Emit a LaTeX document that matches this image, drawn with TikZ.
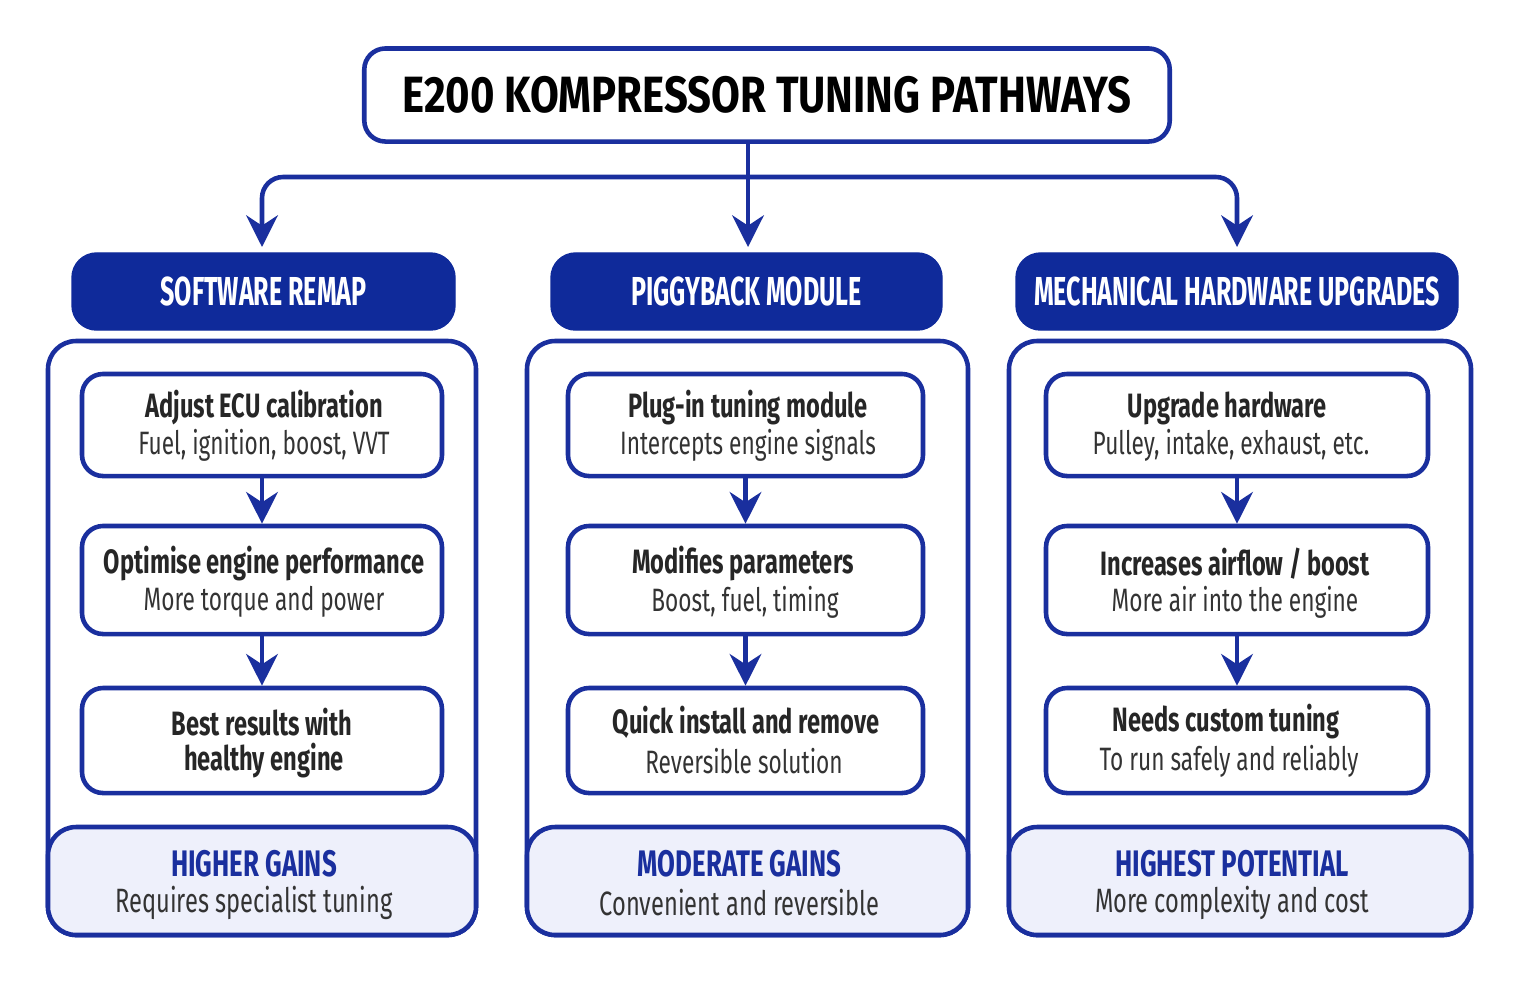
\documentclass[tikz,border=0pt]{standalone}
\usepackage{fontspec}
\setmainfont{Fira Sans}[FakeStretch=0.7]
\newfontfamily\ttlfont{Fira Sans}[FakeStretch=0.82]
\newfontfamily\hdrfont{Fira Sans}[FakeStretch=0.62]
\usetikzlibrary{arrows.meta}
\definecolor{nv}{HTML}{1A2F9E}
\definecolor{hd}{HTML}{0F2A9A}
\definecolor{lt}{HTML}{EEF0FB}
\begin{document}
\begin{tikzpicture}[x=0.01cm,y=-0.01cm,
  box/.style={draw=nv,line width=1.3pt,rounded corners=6pt,fill=white},
  hdr/.style={draw=hd,fill=hd,rounded corners=7pt,text=white,font=\hdrfont\fontsize{11.5}{14}\selectfont\bfseries},
  arr/.style={draw=nv,line width=1.3pt,-{Stealth[length=9pt,width=9pt]}},
  t1/.style={font=\fontsize{9.6}{12}\selectfont\bfseries,text=black!85},
  t2/.style={font=\fontsize{9.2}{12}\selectfont,text=black!80},
  ft/.style={font=\fontsize{10.5}{13}\selectfont\bfseries,text=nv}]
\useasboundingbox (0,0) rectangle (1519,984);
\node[box,minimum width=8.05cm,minimum height=0.93cm,font=\ttlfont\fontsize{14.5}{18}\selectfont\bfseries] (title) at (767,95) {E200 KOMPRESSOR TUNING PATHWAYS};
\coordinate (j) at (748,177);
\coordinate (l) at (262,177);
\coordinate (r) at (1237,177);
\coordinate (lb) at (262,247);
\coordinate (mb) at (748,247);
\coordinate (rb) at (1237,247);
\draw[nv,line width=1.3pt] (title.south -| j) -- (j);
\draw[arr,rounded corners=6pt] (j) -- (l) -- (lb);
\draw[arr,rounded corners=6pt] (j) -- (r) -- (rb);
\draw[arr] (j) -- (mb);
\foreach \pl/\pr/\hl/\hr/\n/\hdtext/\fa/\fb in {
 48/476/72/455/a/SOFTWARE REMAP/HIGHER GAINS/Requires specialist tuning,
 527/968/551/942/b/PIGGYBACK MODULE/MODERATE GAINS/Convenient and reversible,
 1009/1471/1016/1458/c/MECHANICAL HARDWARE UPGRADES/HIGHEST POTENTIAL/More complexity and cost}{
  \node[hdr,minimum width={(\hr-\hl)*0.01cm},minimum height=0.77cm] (h\n) at ({(\hl+\hr)/2},291.5) {\hdtext};
  \draw[nv,line width=1.3pt,rounded corners=8pt,fill=white] (\pl,341) rectangle (\pr,935);
  \draw[nv,line width=1.3pt,rounded corners=8pt,fill=lt] (\pl,827) rectangle (\pr,935);
  \node[ft] (fa\n) at ({(\pl+\pr)/2-8},864) {\fa};
  \node[t2,font=\fontsize{9.6}{12}\selectfont] (fb\n) at ({(\pl+\pr)/2-8},903) {\fb};
}
\foreach \n/\bl/\br in {a/82/442,b/568/923,c/1046/1428}{
  \node[box,minimum width={(\br-\bl)*0.01cm},minimum height=1.02cm] (\n1) at ({(\bl+\br)/2},425) {};
  \node[box,minimum width={(\br-\bl)*0.01cm},minimum height=1.08cm] (\n2) at ({(\bl+\br)/2},580) {};
  \node[box,minimum width={(\br-\bl)*0.01cm},minimum height=1.05cm] (\n3) at ({(\bl+\br)/2},740.5) {};
  \draw[arr] (\n1) -- (\n2);
  \draw[arr] (\n2) -- (\n3);
}
\node[t1] at (264,408) {Adjust ECU calibration};
\node[t2] at (264,445) {Fuel, ignition, boost, VVT};
\node[t1] at (264,564) {Optimise engine performance};
\node[t2] at (264,602) {More torque and power};
\node[t1] at (262,722) {Best results with};
\node[t1] at (264,761) {healthy engine};
\node[t1] at (748,408) {Plug-in tuning module};
\node[t2] at (748,445) {Intercepts engine signals};
\node[t1] at (743,564) {Modifies parameters};
\node[t2] at (745,602) {Boost, fuel, timing};
\node[t1] at (746,722) {Quick install and remove};
\node[t2] at (744,761) {Reversible solution};
\node[t1] at (1227,408) {Upgrade hardware};
\node[t2] at (1231,445) {Pulley, intake, exhaust, etc.};
\node[t1] at (1235,564) {Increases airflow / boost};
\node[t2] at (1235,602) {More air into the engine};
\node[t1] at (1226,722) {Needs custom tuning};
\node[t2] at (1229,761) {To run safely and reliably};
\end{tikzpicture}
\end{document}
